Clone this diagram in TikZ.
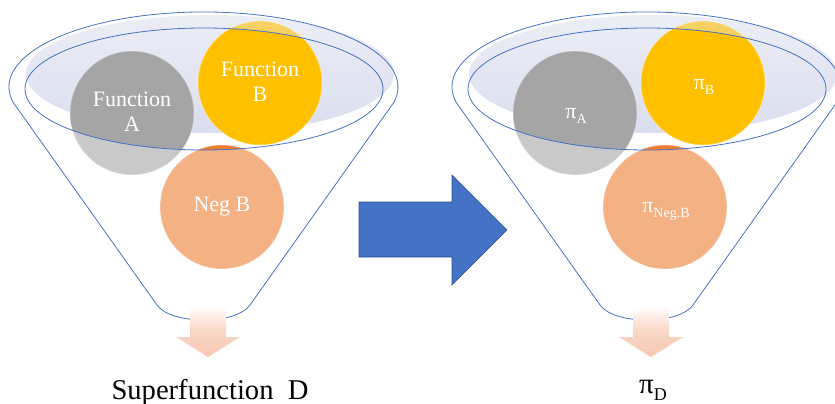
\documentclass[tikz,border=0pt]{standalone}
\usepackage{fontspec}
\setmainfont{Liberation Serif}
\usetikzlibrary{calc}
\definecolor{rimblue}{HTML}{4472C4}
\definecolor{arrowblue}{HTML}{4472C4}
\definecolor{arrowedge}{HTML}{2F528F}
\definecolor{ballgray}{HTML}{A5A5A5}
\definecolor{ballgold}{HTML}{FFC000}
\definecolor{ballorange}{HTML}{ED7D31}
\definecolor{bowltop}{HTML}{ECEEF6}
\definecolor{bowlbottom}{HTML}{DADEEE}
\definecolor{spout}{HTML}{F7C8B2}

% pi with a lowered subscript: #2 pi size, #3 subscript size, #4 drop
\newcommand\pisub[4]{\fontsize{#2}{#2}\selectfont π\raisebox{-#4pt}{\fontsize{#3}{#3}\selectfont #1}}

% one coloured ball: faded outside the inner rim, full colour inside it
\newcommand\ball[3]{%
  \fill[#1, opacity=.6] (#2,#3) circle[radius=62];
  \begin{scope}
    \clip (204,89) ellipse [x radius=179, y radius=61];
    \fill[#1] (#2,#3) circle[radius=62];
  \end{scope}
  \draw[white, opacity=.35, line width=1] (#2,#3) circle[radius=62];
}

% the bowl shading behind the balls
\newcommand\bowl{%
  \shade[top color=bowltop, bottom color=bowlbottom] (210,74) ellipse [x radius=184, y radius=59];
}

% the funnel outline and its inner rim
\newcommand\funnelrim{%
  \draw[rim] (204,89) ellipse [x radius=179, y radius=61];
  \draw[rim] (13.1,102.3) arc[start angle=168.2, end angle=371.8, x radius=194.5, y radius=75]
    -- (250,305) .. controls (236,325) and (171,325) .. (157,305) -- cycle;
}

% the soft spout arrow below the funnel
\newcommand\spoutarrow{%
  \shade[top color=white, bottom color=spout, middle color=spout!75]
    (190,306) -- (226,306) -- (226,337) -- (240,337) -- (208,357) -- (176,337) -- (190,337) -- cycle;
}

\tikzset{
  rim/.style={draw=rimblue, line width=0.8pt},
  balltext/.style={text=white, align=center, font=\fontsize{22}{25}\selectfont},
  caption/.style={anchor=base, font=\fontsize{28.6}{30}\selectfont},
}

\begin{document}
\begin{tikzpicture}[x=1pt, y=-1pt]
  \useasboundingbox (0,0) rectangle (835,404);
  \clip (0,0) rectangle (835,404);

  % ---------- left funnel ----------
  \bowl
  \ball{ballgray}{132}{113}
  \ball{ballgold}{260}{83}
  \ball{ballorange}{222}{207}
  \funnelrim
  \spoutarrow
  \node[balltext] (fa) at (132,112) {Function\\A};
  \node[balltext] (fb) at (260,82) {Function\\B};
  \node[balltext] (nb) at (222,207) {Neg B};
  \node[caption] (sd) at (210,399) {Superfunction\hspace{0.5em}D};

  % ---------- arrow between the funnels ----------
  \filldraw[fill=arrowblue, draw=arrowedge, line width=0.6pt]
    (359,202) -- (452,202) -- (452,175) -- (507,230) -- (452,285) -- (452,257) -- (359,257) -- cycle;

  % ---------- right funnel ----------
  \begin{scope}[shift={(443,0)}]
    \bowl
    \ball{ballgray}{132}{113}
    \ball{ballgold}{260}{83}
    \ball{ballorange}{222}{207}
    \funnelrim
    \spoutarrow
  \end{scope}
  \node[anchor=base, text=white] (pa) at (576,118) {\pisub{A}{22}{14}{5}};
  \node[anchor=base, text=white] (pb) at (704,89) {\pisub{B}{22}{14}{5}};
  \node[anchor=base, text=white] (pn) at (666,212) {\pisub{Neg.B}{22}{14}{5}};
  \node[anchor=base] (pd) at (653,393) {\pisub{D}{29}{18}{7}};
\end{tikzpicture}
\end{document}
